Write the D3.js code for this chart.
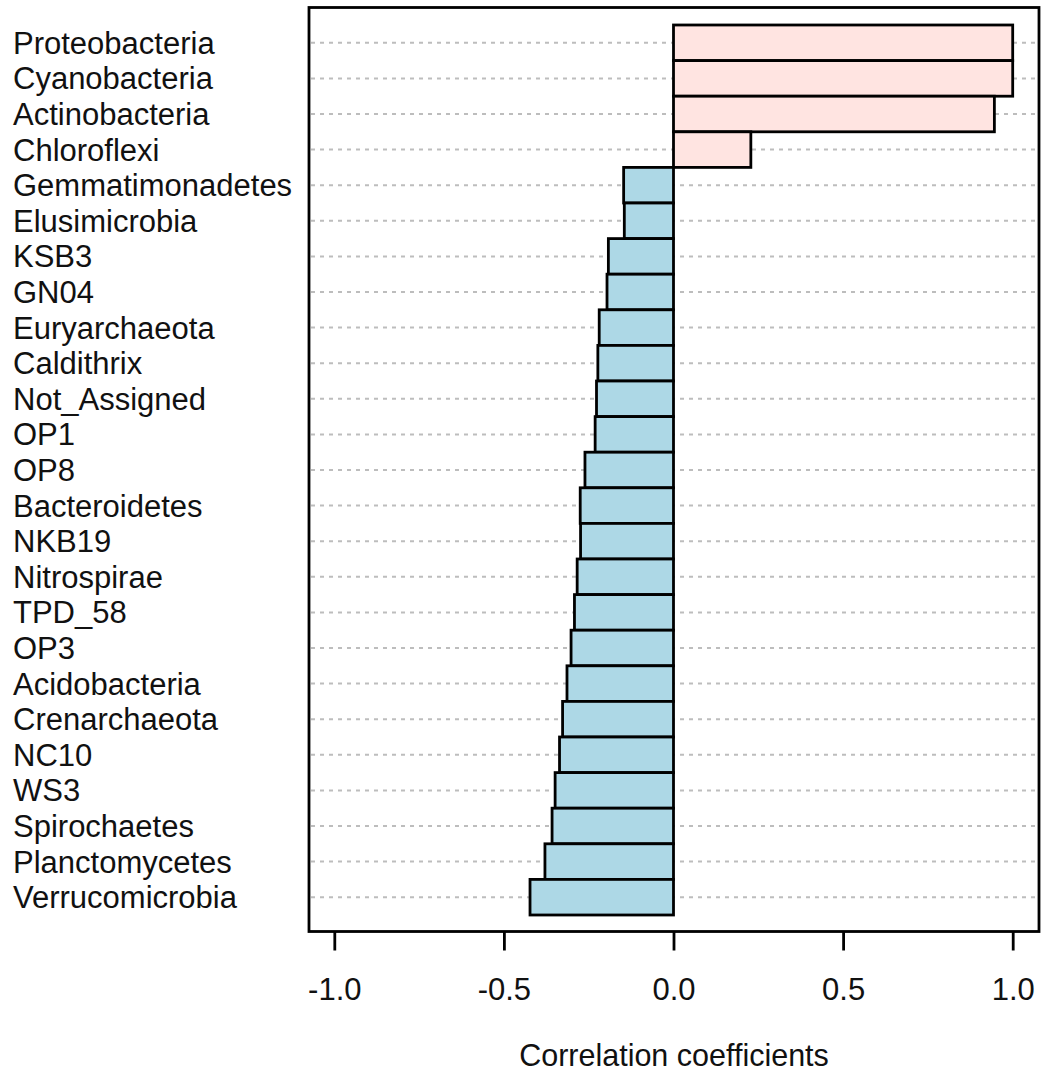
<!DOCTYPE html>
<html>
<head>
<meta charset="utf-8">
<script src="https://cdn.jsdelivr.net/npm/d3@7"></script>
<style>
  html, body { margin: 0; padding: 0; background: #fff; }
  svg { display: block; font-family: "Liberation Sans", Arial, sans-serif; }
</style>
</head>
<body>
<svg id="chart" width="1041" height="1074"></svg>
<script>
const categories = ["Proteobacteria","Cyanobacteria","Actinobacteria","Chloroflexi","Gemmatimonadetes","Elusimicrobia","KSB3","GN04","Euryarchaeota","Caldithrix","Not_Assigned","OP1","OP8","Bacteroidetes","NKB19","Nitrospirae","TPD_58","OP3","Acidobacteria","Crenarchaeota","NC10","WS3","Spirochaetes","Planctomycetes","Verrucomicrobia"];
const values = [1.0, 1.0, 0.946, 0.228, -0.147, -0.145, -0.192, -0.196, -0.219, -0.223, -0.227, -0.231, -0.261, -0.275, -0.274, -0.284, -0.292, -0.302, -0.314, -0.327, -0.336, -0.349, -0.358, -0.379, -0.423];
const xTicks = [-1.0, -0.5, 0.0, 0.5, 1.0];
const xTickLabels = ["-1.0", "-0.5", "0.0", "0.5", "1.0"];
const axisTitle = "Correlation coefficients";
const posColor = "#ffe4e1";
const negColor = "#add8e6";

const svg = d3.select("#chart");
const box = {left: 309, top: 7.5, right: 1039, bottom: 931.5};

const x = d3.scaleLinear().domain([-1, 1]).range([334.3, 1012.7]);
const y = d3.scaleBand().domain(categories).range([25, 915]).padding(0);

// dashed grid lines
svg.append("g").selectAll("line").data(categories).join("line")
  .attr("x1", box.left + 2).attr("x2", box.right - 2)
  .attr("y1", d => y(d) + y.bandwidth() / 2)
  .attr("y2", d => y(d) + y.bandwidth() / 2)
  .attr("stroke", "#bdbdbd").attr("stroke-width", 2)
  .attr("stroke-dasharray", "4,5");

// bars
const data = categories.map((c, i) => ({c, v: values[i]}));
svg.append("g").selectAll("rect").data(data).join("rect")
  .attr("x", d => Math.min(x(0), x(d.v)))
  .attr("y", d => y(d.c))
  .attr("width", d => Math.abs(x(d.v) - x(0)))
  .attr("height", y.bandwidth())
  .attr("fill", d => d.v >= 0 ? posColor : negColor)
  .attr("stroke", "#000").attr("stroke-width", 2.8);

// plot box
svg.append("rect")
  .attr("x", box.left).attr("y", box.top)
  .attr("width", box.right - box.left).attr("height", box.bottom - box.top)
  .attr("fill", "none").attr("stroke", "#000").attr("stroke-width", 2.8);

// category labels
svg.append("g").selectAll("text").data(categories).join("text")
  .attr("x", 13)
  .attr("y", d => y(d) + y.bandwidth() / 2 + 11)
  .attr("font-size", 31)
  .attr("fill", "#111")
  .text(d => d);

// x axis
const axis = d3.axisBottom(x).tickValues(xTicks)
  .tickFormat((d, i) => xTickLabels[i]).tickSize(19).tickPadding(27);
const gAx = svg.append("g").attr("transform", `translate(0,${box.bottom})`).call(axis);
gAx.select(".domain").remove();
gAx.selectAll(".tick line").attr("stroke", "#000").attr("stroke-width", 2.8);
gAx.selectAll(".tick text").attr("font-size", 31).attr("fill", "#111")
  .attr("font-family", "Liberation Sans, Arial, sans-serif");

// axis title
svg.append("text")
  .attr("x", (box.left + box.right) / 2).attr("y", 1066)
  .attr("text-anchor", "middle").attr("font-size", 30.5).attr("fill", "#111")
  .text(axisTitle);
</script>
</body>
</html>
